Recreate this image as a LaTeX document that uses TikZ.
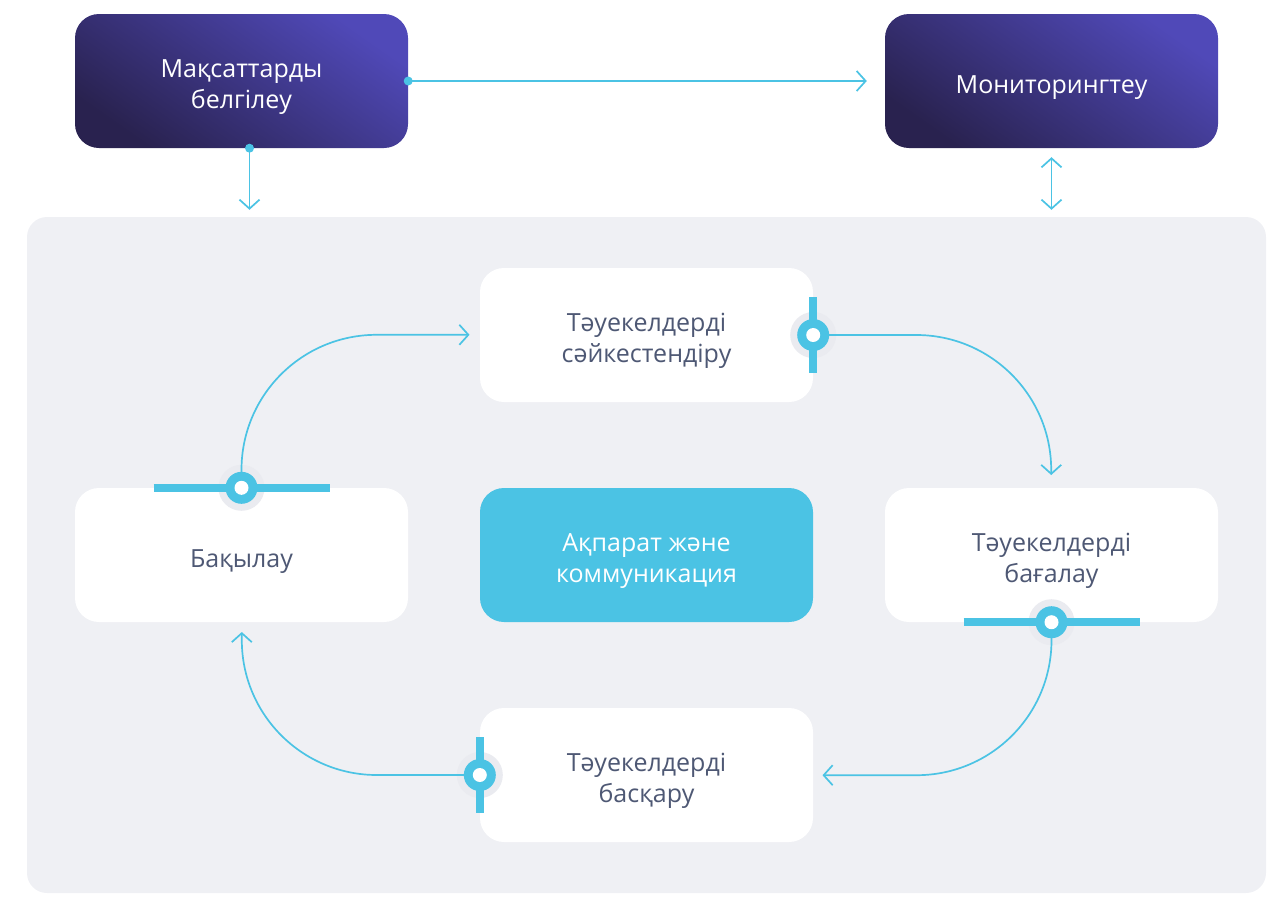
\documentclass[tikz,border=0pt]{standalone}
\usepackage{fontspec}
\setmainfont{Open Sans}
\usetikzlibrary{arrows.meta,calc}
\definecolor{cy}{HTML}{4BC3E4}
\definecolor{bgc}{HTML}{EFF0F4}
\definecolor{halo}{HTML}{EAEBF0}
\definecolor{txt}{HTML}{4E5874}
\definecolor{pdark}{HTML}{29224F}
\definecolor{plight}{HTML}{5049B8}
\newcommand{\bt}[1]{\raisebox{-6pt}[\height][\depth]{\begin{tabular}{@{}c@{}}#1\end{tabular}}}
\tikzset{
  x=1pt,y=1pt,
  box/.style={rounded corners=24pt,minimum width=333pt,minimum height=134pt,inner sep=0pt,font=\fontsize{25}{31}\selectfont},
  wbox/.style={box,fill=white,text=txt},
  pbox/.style={box,top color=plight,bottom color=pdark,shading angle=-35,text=white},
  cbox/.style={box,fill=cy,text=white},
  conn/.style={draw=cy,line width=1.7pt},
  tip/.style={-{Straight Barb[length=9pt,width=20pt]}},
  bar/.style={draw=cy,line width=8pt},
}
\newcommand{\halomark}[1]{\fill[halo] (#1) circle[radius=23];}
\newcommand{\ringmark}[1]{\fill[cy] (#1) circle[radius=16];\fill[white] (#1) circle[radius=7];}
\begin{document}
\begin{tikzpicture}
\useasboundingbox (0,0) rectangle (1282,-900);
\node[draw=none,fill=bgc,rounded corners=20pt,minimum width=1239pt,minimum height=676pt,inner sep=0pt] (bg) at (646.5,-555) {};
\node[pbox] (goals) at (241.5,-81) {\bt{Мақсаттарды\\белгілеу}};
\node[pbox] (mon) at (1051.5,-81) {\bt{Мониторингтеу}};
\node[wbox] (ident) at (646.5,-335) {\bt{Тәуекелдерді\\сәйкестендіру}};
\node[wbox] (ctrl) at (241.5,-555) {\bt{Бақылау}};
\node[cbox] (info) at (646.5,-555) {\bt{Ақпарат және\\коммуникация}};
\node[wbox] (assess) at (1051.5,-555) {\bt{Тәуекелдерді\\бағалау}};
\node[wbox] (manage) at (646.5,-775) {\bt{Тәуекелдерді\\басқару}};
\coordinate (gs) at ($(goals.south)+(8,0)$);
% top connectors
\draw[conn,tip,shorten >=18pt] (goals.east) -- (goals.east -| mon.west);
\fill[cy] (goals.east) circle[radius=4.5];
\draw[conn,tip,shorten >=7pt] (gs) -- (gs |- bg.north);
\fill[cy] (gs) circle[radius=4.5];
\draw[conn,{Straight Barb[length=9pt,width=20pt]}-{Straight Barb[length=9pt,width=20pt]},shorten <=9pt,shorten >=7pt] (mon.south) -- (mon.south |- bg.north);
% halos
\halomark{ident.east}
\halomark{ctrl.north}
\halomark{assess.south}
\halomark{manage.west}
% cycle connectors
\draw[conn,tip] (ident.east) -- ++(103,0) arc[start angle=90,end angle=0,radius=135] -- ++(0,-5);
\draw[conn,tip] (assess.south) -- ++(0,-18) arc[start angle=0,end angle=-90,radius=135] -- ++(-94,0);
\draw[conn,tip] (manage.west) -- ++(-103,0) arc[start angle=-90,end angle=-180,radius=135] -- ++(0,8);
\draw[conn,tip] (ctrl.north) -- ++(0,18) arc[start angle=180,end angle=90,radius=135] -- ++(93,0);
% bars
\draw[bar] ($(ident.east)+(0,38)$) -- ($(ident.east)+(0,-38)$);
\draw[bar] ($(manage.west)+(0,38)$) -- ($(manage.west)+(0,-38)$);
\draw[bar] ($(ctrl.north)+(-88,0)$) -- ($(ctrl.north)+(88,0)$);
\draw[bar] ($(assess.south)+(-88,0)$) -- ($(assess.south)+(88,0)$);
\ringmark{ident.east}
\ringmark{ctrl.north}
\ringmark{assess.south}
\ringmark{manage.west}
\end{tikzpicture}
\end{document}
